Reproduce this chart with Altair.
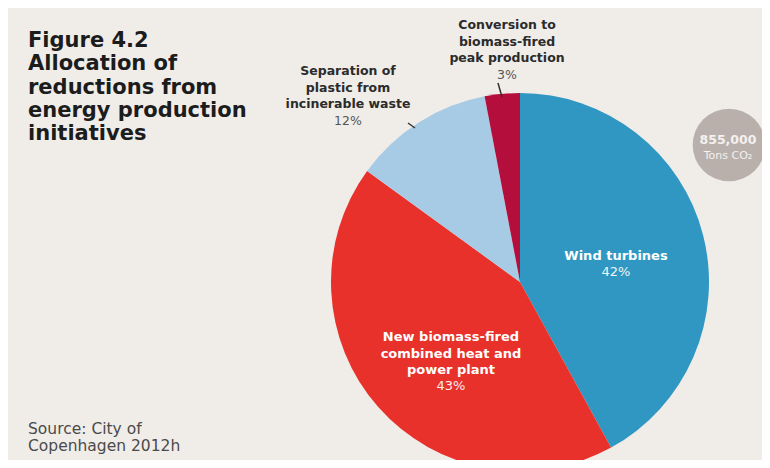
import math
import altair as alt
import pandas as pd

# ---- data ----
categories = [
    "Wind turbines",
    "New biomass-fired combined heat and power plant",
    "Separation of plastic from incinerable waste",
    "Conversion to biomass-fired peak production",
]
shares = [42, 43, 12, 3]
colors = ["#2f97c2", "#e8312a", "#a8cbe5", "#b30e3c"]
label_lines = [
    ["Wind turbines"],
    ["New biomass-fired", "combined heat and", "power plant"],
    ["Separation of", "plastic from", "incinerable waste"],
    ["Conversion to", "biomass-fired", "peak production"],
]
pct_labels = [f"{s}%" for s in shares]
title_lines = ["Figure 4.2", "Allocation of", "reductions from", "energy production", "initiatives"]
source_lines = ["Source: City of", "Copenhagen 2012h"]
total_value = "855,000"
total_unit = "Tons CO₂"

FONT = "DejaVu Sans"
M = 8  # page margin

pie_df = pd.DataFrame({"category": categories, "share": shares, "idx": list(range(len(shares)))})
anchor = pd.DataFrame({"a": [0]})


def px(x):
    return alt.value(x - M)


def text_layer(lines, x, y, size, weight, color, lh=None, align="center"):
    return alt.Chart(anchor).mark_text(
        text=lines, align=align, baseline="alphabetic", font=FONT,
        fontSize=size, fontWeight=weight, color=color,
        lineHeight=lh if lh else size * 1.3,
    ).encode(x=px(x), y=px(y))


def rule_layer(x1, y1, x2, y2):
    return alt.Chart(anchor).mark_rule(color="#333333", strokeWidth=1.5).encode(
        x=px(x1), y=px(y1), x2=px(x2), y2=px(y2)
    )


pie = alt.Chart(pie_df).mark_arc(radius=189).encode(
    theta=alt.Theta("share:Q", stack=True),
    color=alt.Color("category:N", scale=alt.Scale(domain=categories, range=colors), legend=None),
    order=alt.Order("idx:Q"),
    x=px(520),
    y=px(282),
)

layers = [pie]

# leader lines
layers.append(rule_layer(498, 83, 502, 97))
layers.append(rule_layer(408, 123, 415, 128))

# outside labels
layers.append(text_layer(label_lines[3], 507, 29, 12.5, "bold", "#2b2b2b", lh=16.5))
layers.append(text_layer(pct_labels[3], 507, 78.5, 12.5, "normal", "#555555"))
layers.append(text_layer(label_lines[2], 348, 75, 12.5, "bold", "#2b2b2b", lh=16.5))
layers.append(text_layer(pct_labels[2], 348, 124.5, 12.5, "normal", "#555555"))

# inside labels
layers.append(text_layer(label_lines[0], 616, 260, 13, "bold", "#ffffff", lh=16))
layers.append(text_layer(pct_labels[0], 616, 275.5, 13, "normal", "#eef6fa"))
layers.append(text_layer(label_lines[1], 451, 341, 13, "bold", "#ffffff", lh=16.5))
layers.append(text_layer(pct_labels[1], 451, 390, 13, "normal", "#fbeeee"))

# title and source
layers.append(text_layer(title_lines, 28, 47, 21, "bold", "#1c1c1c", lh=23.3, align="left"))
layers.append(text_layer(source_lines, 28, 434, 15.5, "normal", "#4a4a4a", lh=17, align="left"))

# total bubble
r_bubble = 41
layers.append(
    alt.Chart(anchor).mark_circle(size=math.pi * r_bubble ** 2, color="#b9b0ac", opacity=1).encode(
        x=px(729), y=px(145)
    )
)
layers.append(text_layer(total_value, 728, 144, 12.5, "bold", "#f4f1ef"))
layers.append(text_layer(total_unit, 728, 159, 11, "normal", "#f4f1ef"))

chart = alt.layer(*layers).properties(
    width=754, height=452, padding=0, autosize="none", background="#f0ede9"
).configure_view(stroke=None)

chart.save("out.html", embed_options={"renderer": "svg", "actions": False})
